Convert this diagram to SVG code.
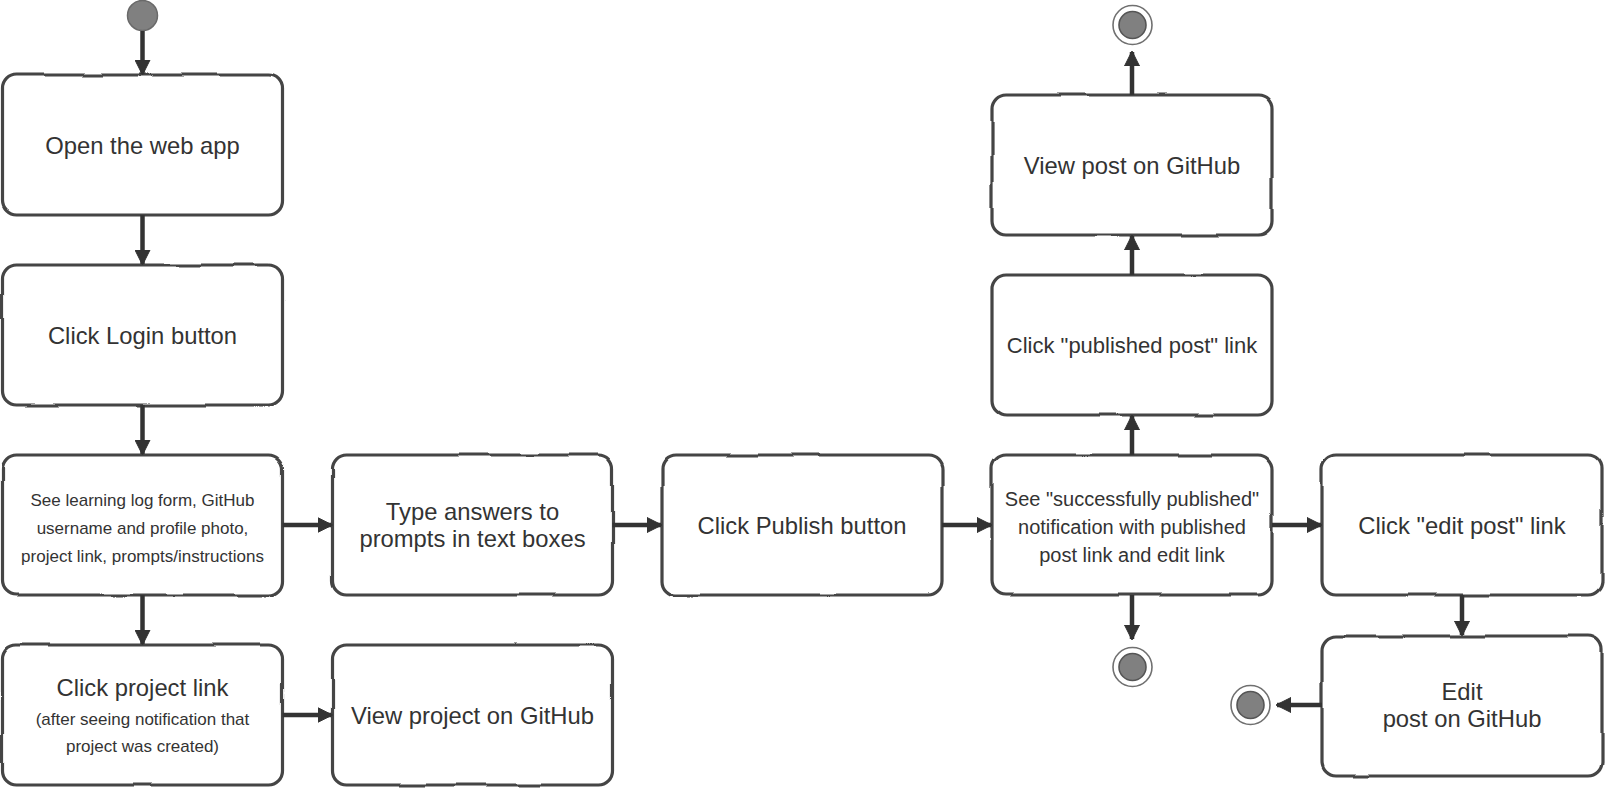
<svg xmlns="http://www.w3.org/2000/svg" width="1605" height="788" viewBox="0 0 1605 788">
<style>
.box{fill:#ffffff;stroke:#444444;stroke-width:3.2;filter:url(#rough)}
.t{font-family:"Liberation Sans",Arial,sans-serif;font-size:23.8px;fill:#333333;text-anchor:middle}
.s{font-size:17px}
.m{font-size:20px}
.p{font-size:22px}
.c{stroke:#333333;stroke-width:4.5;fill:none;marker-end:url(#ah)}
.start{fill:#808080;stroke:#6a6a6a;stroke-width:1.5}
.endo{fill:#ffffff;stroke:#707070;stroke-width:1.6}
.endi{fill:#808080;stroke:#555555;stroke-width:1.6}
</style>
<defs>
<filter id="rough" x="-5%" y="-5%" width="110%" height="110%">
<feTurbulence type="fractalNoise" baseFrequency="0.018" numOctaves="1" seed="5" result="n"/>
<feDisplacementMap in="SourceGraphic" in2="n" scale="3.5" xChannelSelector="R" yChannelSelector="G"/>
</filter>
<marker id="ah" viewBox="0 0 16 16" refX="14" refY="8" markerWidth="16" markerHeight="16" markerUnits="userSpaceOnUse" orient="auto">
<path d="M0,0.5 L15,8 L0,15.5 Z" fill="#333333" stroke="#333333" stroke-width="1" stroke-linejoin="round"/>
</marker>
</defs>
<rect width="1605" height="788" fill="#ffffff"/>

<g id="start"><circle class="start" cx="142.5" cy="15.5" r="15"/></g>

<g id="n-open"><rect class="box" x="2.5" y="75" width="280" height="140" rx="14"/><text class="t" x="142.5" y="153.5">Open the web app</text></g>
<g id="n-login"><rect class="box" x="2.5" y="265" width="280" height="140" rx="14"/><text class="t" x="142.5" y="343.5">Click Login button</text></g>
<g id="n-form"><rect class="box" x="2.5" y="455" width="280" height="140" rx="14"/>
<text class="t s" x="142.5" y="506">See learning log form, GitHub</text>
<text class="t s" x="142.5" y="534">username and profile photo,</text>
<text class="t s" x="142.5" y="561.7">project link, prompts/instructions</text></g>
<g id="n-project"><rect class="box" x="2.5" y="645" width="280" height="140" rx="14"/>
<text class="t" x="142.5" y="696">Click project link</text>
<text class="t s" x="142.5" y="725">(after seeing notification that</text>
<text class="t s" x="142.5" y="751.7">project was created)</text></g>
<g id="n-type"><rect class="box" x="332.5" y="455" width="280" height="140" rx="14"/>
<text class="t" x="472.5" y="520">Type answers to</text>
<text class="t" x="472.5" y="547.3">prompts in text boxes</text></g>
<g id="n-viewproject"><rect class="box" x="332.5" y="645" width="280" height="140" rx="14"/><text class="t" x="472.5" y="723.5">View project on GitHub</text></g>
<g id="n-publish"><rect class="box" x="662" y="455" width="280" height="140" rx="14"/><text class="t" x="802" y="533.5">Click Publish button</text></g>
<g id="n-success"><rect class="box" x="992" y="455" width="280" height="140" rx="14"/>
<text class="t m" x="1132" y="506">See "successfully published"</text>
<text class="t m" x="1132" y="534">notification with published</text>
<text class="t m" x="1132" y="561.7">post link and edit link</text></g>
<g id="n-pubpost"><rect class="box" x="992" y="275" width="280" height="140" rx="14"/><text class="t p" x="1132" y="353">Click "published post" link</text></g>
<g id="n-viewpost"><rect class="box" x="992" y="95" width="280" height="140" rx="14"/><text class="t" x="1132" y="173.5">View post on GitHub</text></g>
<g id="n-editlink"><rect class="box" x="1322" y="455" width="280" height="140" rx="14"/><text class="t" x="1462" y="533.5">Click "edit post" link</text></g>
<g id="n-editpost"><rect class="box" x="1322" y="636" width="280" height="140" rx="14"/>
<text class="t" x="1462" y="699.5">Edit</text>
<text class="t" x="1462" y="727">post on GitHub</text></g>

<g id="end-top"><circle class="endo" cx="1132.5" cy="25" r="19.5"/><circle class="endi" cx="1132.5" cy="25" r="13.5"/></g>
<g id="end-bottom"><circle class="endo" cx="1132.5" cy="667" r="19.5"/><circle class="endi" cx="1132.5" cy="667" r="13.5"/></g>
<g id="end-left"><circle class="endo" cx="1250.5" cy="705" r="19.5"/><circle class="endi" cx="1250.5" cy="705" r="13.5"/></g>

<g id="connectors">
<path class="c" d="M142.5,31 L142.5,74"/>
<path class="c" d="M142.5,215 L142.5,264"/>
<path class="c" d="M142.5,405 L142.5,454"/>
<path class="c" d="M142.5,595 L142.5,644"/>
<path class="c" d="M282.5,525 L331.5,525"/>
<path class="c" d="M282.5,715 L331.5,715"/>
<path class="c" d="M612.5,525 L661,525"/>
<path class="c" d="M942,525 L991,525"/>
<path class="c" d="M1272,525 L1321,525"/>
<path class="c" d="M1132,455 L1132,416"/>
<path class="c" d="M1132,275 L1132,236"/>
<path class="c" d="M1132,95 L1132,52"/>
<path class="c" d="M1132,595 L1132,639"/>
<path class="c" d="M1462,595 L1462,635"/>
<path class="c" d="M1322,705 L1277,705"/>
</g>
</svg>
